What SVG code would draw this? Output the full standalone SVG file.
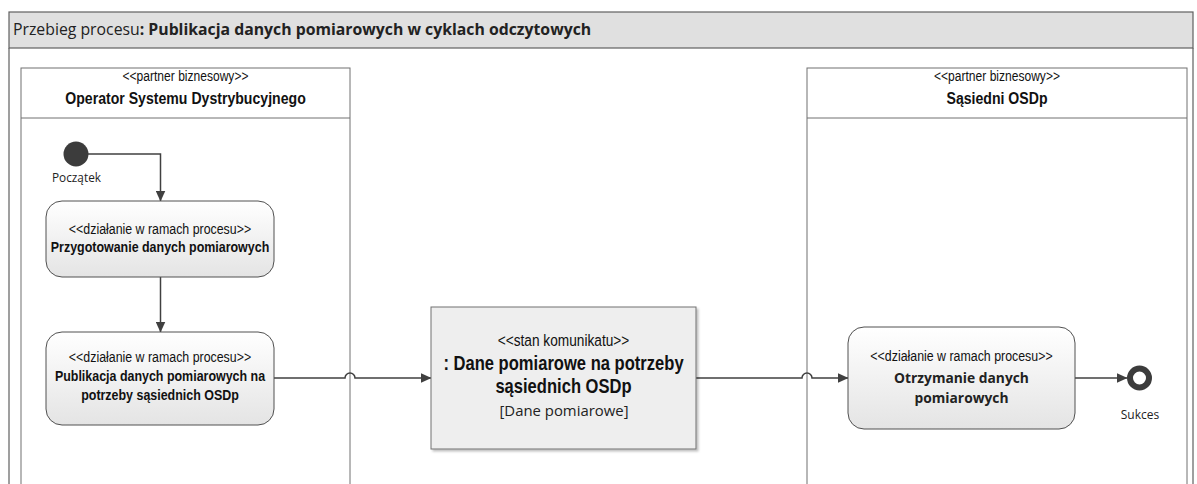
<svg xmlns="http://www.w3.org/2000/svg" width="1197" height="484" viewBox="0 0 1197 484">
<defs>
<linearGradient id="actGrad" x1="0" y1="0" x2="0" y2="1">
<stop offset="0" stop-color="#ffffff"/>
<stop offset="1" stop-color="#e4e4e4"/>
</linearGradient>
<marker id="arrow" markerWidth="11" markerHeight="10" refX="10.5" refY="5" orient="auto" markerUnits="userSpaceOnUse">
<path d="M0,0 L11,5 L0,10 z" fill="#404040"/>
</marker>
<filter id="shadow" x="-5%" y="-5%" width="115%" height="115%">
<feDropShadow dx="2" dy="2" stdDeviation="1" flood-color="#000" flood-opacity="0.25"/>
</filter>
</defs>
<style>
.frame{fill:none;stroke:#606060;stroke-width:1.2}
.lane{fill:#ffffff;stroke:#707070;stroke-width:1}
.act{fill:url(#actGrad);stroke:#505050;stroke-width:1}
.conn{fill:none;stroke:#404040;stroke-width:1.5}
.n{font-family:"Liberation Sans",Arial,sans-serif;fill:#111;text-anchor:middle}
.b{font-weight:bold}
.s-lane{font-size:14.7px}
.n-lane{font-size:17.2px}
.s-act{font-size:15.1px}
.n-act{font-size:15.2px}
.s-msg{font-size:16.7px}
.n-msg{font-size:20.2px}
.cal{font-family:"Open Sans","Liberation Sans",sans-serif;fill:#222}
</style>
<rect x="0" y="0" width="1197" height="484" fill="#ffffff"/>
<g id="frame">
<rect x="9" y="12" width="1184" height="36" fill="#e0e0e0" stroke="#606060" stroke-width="1.2"/>
<path class="frame" d="M9,48 V484 M1193,48 V484"/>
<text x="13" y="35" class="cal" style="font-size:15.8px">Przebieg procesu<tspan font-weight="bold">: Publikacja danych pomiarowych w cyklach odczytowych</tspan></text>
</g>
<g id="lane-osd">
<rect class="lane" x="21" y="68" width="329" height="430"/>
<line x1="21" y1="118" x2="350" y2="118" stroke="#707070"/>
<text class="n s-lane" transform="translate(185.5,81) scale(0.82,1)">&lt;&lt;partner biznesowy&gt;&gt;</text>
<text class="n b n-lane" transform="translate(185.5,104) scale(0.82,1)">Operator Systemu Dystrybucyjnego</text>
</g>
<g id="lane-sasiedni">
<rect class="lane" x="807" y="68" width="380" height="430"/>
<line x1="807" y1="118" x2="1187" y2="118" stroke="#707070"/>
<text class="n s-lane" transform="translate(997,81) scale(0.82,1)">&lt;&lt;partner biznesowy&gt;&gt;</text>
<text class="n b n-lane" transform="translate(997,104) scale(0.82,1)">Sąsiedni OSDp</text>
</g>
<g id="connectors">
<path class="conn" marker-end="url(#arrow)" d="M88,154 H160.5 V201"/>
<path class="conn" marker-end="url(#arrow)" d="M160.5,277 V332"/>
<path class="conn" marker-end="url(#arrow)" d="M274,378 H345 A5,5 0 0 1 355,378 H431"/>
<path class="conn" marker-end="url(#arrow)" d="M696,378 H802 A5,5 0 0 1 812,378 H848"/>
<path class="conn" marker-end="url(#arrow)" d="M1075,378 H1127"/>
</g>
<g id="start">
<circle cx="76" cy="154" r="12.5" fill="#3c3c3c"/>
<text x="52" y="182" class="cal" style="font-size:11.8px">Początek</text>
</g>
<g id="act-przygotowanie">
<rect class="act" x="46" y="201" width="228" height="76" rx="16"/>
<text class="n s-act" transform="translate(160,234) scale(0.82,1)">&lt;&lt;działanie w ramach procesu&gt;&gt;</text>
<text class="n b n-act" transform="translate(160,252) scale(0.82,1)">Przygotowanie danych pomiarowych</text>
</g>
<g id="act-publikacja">
<rect class="act" x="46" y="332" width="228" height="93" rx="16"/>
<text class="n s-act" transform="translate(160,362) scale(0.82,1)">&lt;&lt;działanie w ramach procesu&gt;&gt;</text>
<text class="n b n-act" transform="translate(160,381) scale(0.82,1)">Publikacja danych pomiarowych na</text>
<text class="n b n-act" transform="translate(160,400) scale(0.82,1)">potrzeby sąsiednich OSDp</text>
</g>
<g id="msg-dane">
<rect x="431" y="307" width="265" height="142" fill="#eeeeee" stroke="#707070" stroke-width="1" filter="url(#shadow)"/>
<text class="n s-msg" transform="translate(563.5,346) scale(0.82,1)">&lt;&lt;stan komunikatu&gt;&gt;</text>
<text class="n b n-msg" transform="translate(563.5,370) scale(0.82,1)">: Dane pomiarowe na potrzeby</text>
<text class="n b n-msg" transform="translate(563.5,393) scale(0.82,1)">sąsiednich OSDp</text>
<text x="564" y="416" class="cal" text-anchor="middle" style="font-size:14.9px">[Dane pomiarowe]</text>
</g>
<g id="act-otrzymanie">
<rect class="act" x="848" y="327" width="227" height="102" rx="16"/>
<text class="n s-act" transform="translate(961.5,361) scale(0.82,1)">&lt;&lt;działanie w ramach procesu&gt;&gt;</text>
<text x="961.5" y="383" class="cal" text-anchor="middle" font-weight="bold" style="font-size:13.8px">Otrzymanie danych</text>
<text x="961.5" y="403" class="cal" text-anchor="middle" font-weight="bold" style="font-size:13.8px">pomiarowych</text>
</g>
<g id="end-sukces">
<circle cx="1139.5" cy="378" r="9.5" fill="#ffffff" stroke="#3c3c3c" stroke-width="6"/>
<text x="1140" y="419" class="cal" text-anchor="middle" style="font-size:12px">Sukces</text>
</g>
</svg>
